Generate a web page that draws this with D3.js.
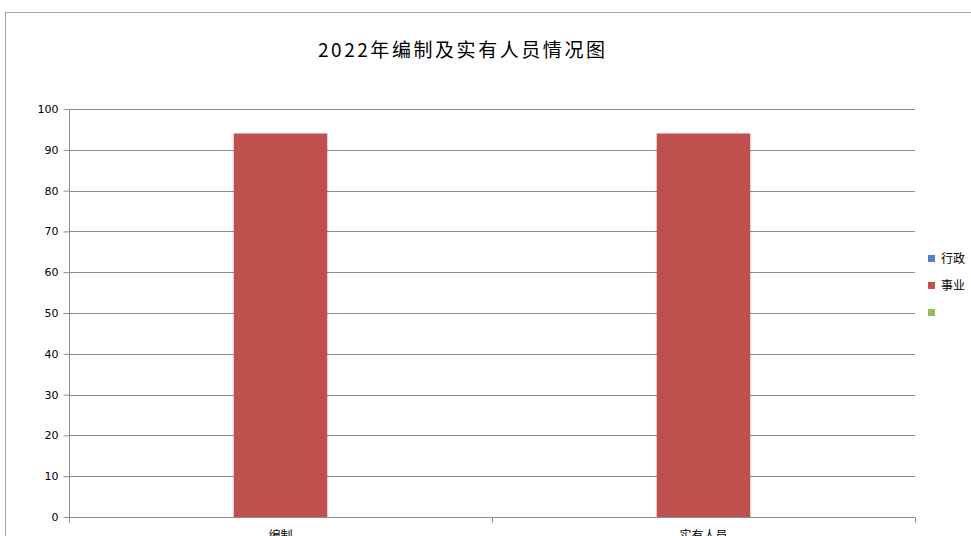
<!DOCTYPE html>
<html>
<head>
<meta charset="utf-8">
<script src="https://cdn.jsdelivr.net/npm/d3@7"></script>
<style>
  body { margin: 0; background: #fff; }
  text { font-family: "DejaVu Sans", Verdana, sans-serif; }
</style>
</head>
<body>
<div id="vis"></div>
<script>
const FRAME_WIDTH = 971;
const FRAME_HEIGHT = 536;
const MARGINS = {left: 69, right: 56, top: 109, bottom: 19};

// data
const categories = ["编制", "实有人员"];
const seriesNames = ["行政", "事业", ""];
const seriesColors = ["#4f81bd", "#c0504d", "#9bbb59"];
const xingzheng = [0, 0];
const shiye = [94, 94];
const other = [0, 0];
const yTicks = [0, 10, 20, 30, 40, 50, 60, 70, 80, 90, 100];

const seriesValues = [xingzheng, shiye, other];

const svg = d3.select("#vis")
  .append("svg")
    .attr("width", FRAME_WIDTH)
    .attr("height", FRAME_HEIGHT);

// outer chart border
svg.append("rect")
  .attr("x", 5.5).attr("y", 12.5)
  .attr("width", FRAME_WIDTH + 10).attr("height", FRAME_HEIGHT + 10)
  .attr("fill", "none").attr("stroke", "#a6a6a6");

// title
svg.append("text")
  .attr("x", 318).attr("y", 57)
  .attr("textLength", 287).attr("lengthAdjust", "spacing")
  .style("font-family", "'Noto Sans CJK SC', sans-serif")
  .style("font-size", "19px")
  .attr("fill", "#000")
  .text("2022年编制及实有人员情况图");

const x0 = d3.scaleBand()
  .domain(categories)
  .range([MARGINS.left, FRAME_WIDTH - MARGINS.right]);

const x1 = d3.scaleBand()
  .domain(d3.range(seriesNames.length))
  .range([0, x0.bandwidth()])
  .paddingInner(0)
  .paddingOuter(0.76);

const yScale = d3.scaleLinear()
  .domain([0, 100])
  .range([FRAME_HEIGHT - MARGINS.bottom, MARGINS.top]);

// gridlines
svg.append("g")
  .selectAll("line")
  .data(yTicks.filter(d => d > 0))
  .enter()
  .append("line")
    .attr("x1", MARGINS.left).attr("x2", FRAME_WIDTH - MARGINS.right)
    .attr("y1", d => Math.round(yScale(d)) + 0.5)
    .attr("y2", d => Math.round(yScale(d)) + 0.5)
    .attr("stroke", "#8c8c8c");

// bars
categories.forEach((c, i) => {
  svg.append("g")
    .selectAll("rect")
    .data(seriesValues.map((s, k) => ({k: k, v: s[i]})))
    .enter()
    .append("rect")
      .attr("x", d => x0(c) + x1(d.k))
      .attr("y", d => yScale(d.v))
      .attr("width", x1.bandwidth())
      .attr("height", d => yScale(0) - yScale(d.v))
      .attr("fill", d => seriesColors[d.k]);
});

// y axis
const yAxis = svg.append("g")
  .attr("transform", "translate(" + (MARGINS.left + 0.5) + ",0)")
  .call(d3.axisLeft(yScale).tickValues(yTicks).tickSize(6).tickPadding(5));
yAxis.selectAll("text").style("font-size", "11px").attr("fill", "#000");
yAxis.selectAll("line").attr("stroke", "#8c8c8c");
yAxis.select(".domain").attr("stroke", "#8c8c8c").attr("d",
  "M0," + yScale(100) + "V" + yScale(0));

// x axis
const xAxis = svg.append("g")
  .attr("transform", "translate(0," + (Math.round(yScale(0)) + 0.5) + ")");
xAxis.append("line")
  .attr("x1", MARGINS.left).attr("x2", FRAME_WIDTH - MARGINS.right)
  .attr("stroke", "#8c8c8c");
xAxis.selectAll(".tk")
  .data([x0.range()[0], x0(categories[1]), x0.range()[1]])
  .enter()
  .append("line")
    .attr("x1", d => d + 0.5).attr("x2", d => d + 0.5)
    .attr("y1", 0).attr("y2", 5)
    .attr("stroke", "#8c8c8c");
xAxis.selectAll(".lbl")
  .data(categories)
  .enter()
  .append("text")
    .attr("x", d => x0(d) + x0.bandwidth() / 2)
    .attr("y", 22)
    .attr("text-anchor", "middle")
    .style("font-family", "'Noto Sans CJK SC', sans-serif")
    .style("font-size", "12px")
    .text(d => d);

// legend
const legend = svg.append("g")
  .selectAll("g")
  .data(seriesNames)
  .enter()
  .append("g")
    .attr("transform", (d, i) => "translate(928," + (255 + i * 27) + ")");
legend.append("rect")
  .attr("width", 7).attr("height", 7)
  .attr("fill", (d, i) => seriesColors[i]);
legend.append("text")
  .attr("x", 13).attr("y", 8)
  .style("font-family", "'Noto Sans CJK SC', sans-serif")
  .style("font-size", "12px")
  .text(d => d);
</script>
</body>
</html>
